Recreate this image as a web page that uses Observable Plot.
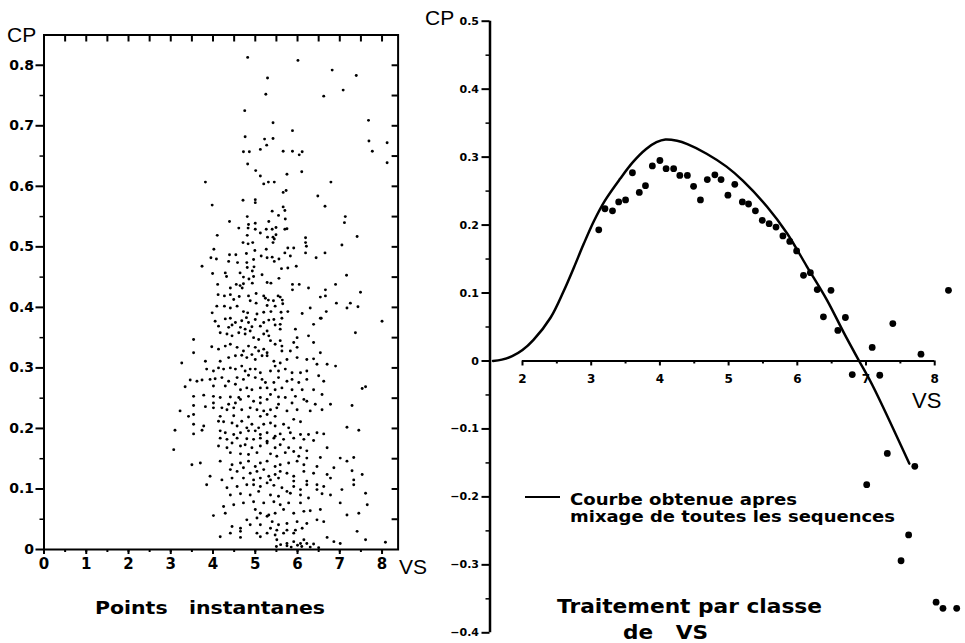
<!DOCTYPE html>
<html><head><meta charset="utf-8">
<script src="https://cdn.jsdelivr.net/npm/d3@7"></script>
<script src="https://cdn.jsdelivr.net/npm/@observablehq/plot@0.6"></script>
<style>
html,body{margin:0;padding:0;background:#fff;}
#wrap{position:relative;width:965px;height:643px;overflow:hidden;background:#fff;}
.panel{position:absolute;top:0;}
#overlay{position:absolute;left:0;top:0;pointer-events:none;}
</style></head>
<body><div id="wrap">
<div id="left" class="panel" style="left:0px"></div>
<div id="right" class="panel" style="left:430px"></div>
<svg id="overlay" width="965" height="643" xmlns="http://www.w3.org/2000/svg">
  <g font-family="Liberation Sans, Arial, sans-serif" fill="#000">
    <text x="7" y="42" font-size="21">CP</text>
    <text x="399" y="574" font-size="21">VS</text>
    <text x="425" y="25" font-size="21">CP</text>
    <text x="912" y="408" font-size="22">VS</text>
  </g>
  <g font-family="DejaVu Sans, sans-serif" font-weight="bold" fill="#000">
    <text x="95" y="614" font-size="18" textLength="230" lengthAdjust="spacingAndGlyphs" xml:space="preserve">Points   instantanes</text>
    <text x="557" y="613" font-size="19" textLength="265" lengthAdjust="spacingAndGlyphs">Traitement par classe</text>
    <text x="623" y="639" font-size="19" textLength="85" lengthAdjust="spacingAndGlyphs" xml:space="preserve">de   VS</text>
    <line x1="525" x2="560" y1="497" y2="497" stroke="#000" stroke-width="2"/>
    <text x="570" y="505" font-size="15" textLength="227" lengthAdjust="spacingAndGlyphs">Courbe obtenue apres</text>
    <text x="570" y="522" font-size="15" textLength="325" lengthAdjust="spacingAndGlyphs">mixage de toutes les sequences</text>
  </g>
</svg>
</div>
<script>
// ---------- Left panel: instantaneous points (VS, CP) ----------
const cloudUpper = [[4.82,0.813],[6.01,0.808],[6.82,0.792],[7.39,0.783],[5.29,0.779],[5.25,0.752],[6.62,0.749],[7.08,0.759],[4.75,0.725],[5.42,0.705],[5.88,0.692],[7.68,0.709],[4.76,0.682],[5.22,0.678],[5.42,0.679],[5.27,0.668],[7.69,0.675],[8.12,0.672],[7.77,0.658],[4.72,0.657],[4.86,0.657],[5.12,0.661],[5.66,0.658],[5.88,0.658],[6.04,0.652],[6.11,0.657],[8.12,0.639],[4.82,0.637],[5.01,0.626],[6.10,0.624],[5.75,0.620],[5.12,0.617],[3.82,0.607],[5.20,0.604],[5.31,0.607],[5.45,0.607],[6.79,0.607],[5.66,0.590],[5.73,0.593],[6.48,0.584],[4.71,0.577],[5.0,0.578],[5.0,0.573],[3.98,0.569],[6.65,0.567],[5.66,0.566],[5.40,0.559],[5.70,0.560],[5.55,0.552],[7.13,0.550],[7.11,0.540],[4.81,0.550],[4.84,0.537],[5.0,0.539],[5.71,0.546],[4.39,0.542],[5.32,0.542],[4.61,0.531],[4.83,0.531],[5.0,0.529],[5.26,0.529],[5.40,0.529],[5.49,0.532],[5.70,0.529],[5.75,0.530],[4.10,0.519],[5.12,0.523],[4.81,0.519],[5.29,0.516],[5.42,0.516],[5.49,0.520],[7.41,0.517],[6.19,0.515],[4.71,0.507],[4.83,0.505],[4.94,0.507],[5.45,0.513],[5.42,0.507],[6.19,0.507],[6.21,0.501],[7.05,0.503],[5.77,0.498],[5.91,0.498],[4.02,0.496],[4.99,0.494],[4.79,0.489],[5.26,0.496],[5.70,0.490],[6.19,0.490],[6.65,0.490],[3.95,0.482],[4.08,0.480],[4.39,0.487],[4.54,0.487],[5.14,0.485],[5.28,0.482],[5.40,0.483],[5.56,0.480],[5.45,0.476],[6.44,0.482],[5.83,0.485],[4.96,0.479],[4.80,0.474],[4.37,0.476],[4.58,0.474],[3.74,0.468],[4.97,0.467],[4.81,0.466],[5.97,0.468],[5.62,0.464],[5.77,0.465],[3.99,0.456],[4.29,0.457],[4.32,0.451],[4.64,0.457],[4.72,0.450],[4.93,0.460],[4.96,0.451],[4.85,0.447],[5.16,0.454],[5.56,0.448],[7.16,0.453],[4.11,0.438],[4.55,0.438],[4.64,0.436],[4.72,0.439],[4.93,0.440],[5.28,0.441],[5.37,0.440],[5.88,0.438],[6.04,0.438],[6.90,0.438],[6.26,0.432],[4.41,0.432],[4.69,0.432],[4.12,0.421],[4.27,0.419],[4.41,0.421],[4.62,0.418],[4.84,0.419],[5.02,0.423],[5.20,0.419],[5.24,0.415],[5.54,0.419],[5.59,0.417],[5.88,0.429],[5.64,0.412],[6.54,0.417],[6.66,0.429],[6.66,0.419],[7.49,0.425],[4.49,0.413],[4.88,0.411],[5.31,0.412],[5.43,0.411],[6.92,0.407],[7.25,0.407],[4.09,0.402],[4.27,0.402],[4.41,0.399],[4.57,0.402],[5.02,0.407],[5.28,0.403],[5.47,0.402],[5.65,0.406],[6.30,0.399],[6.11,0.390],[7.17,0.399],[7.43,0.401],[3.98,0.391],[4.72,0.393],[4.82,0.391],[5.04,0.389],[5.20,0.392],[5.37,0.393],[5.61,0.392],[5.77,0.393],[6.68,0.393],[6.56,0.382]];

const cloudMiddle = [[4.05,0.377],[4.29,0.381],[4.41,0.382],[4.53,0.375],[4.68,0.378],[4.79,0.383],[4.84,0.375],[5.00,0.380],[5.20,0.375],[5.32,0.379],[5.44,0.380],[5.59,0.372],[5.63,0.382],[6.54,0.382],[8.00,0.377],[4.13,0.369],[4.37,0.367],[4.45,0.371],[4.65,0.367],[4.76,0.364],[4.92,0.368],[5.12,0.369],[5.28,0.361],[5.47,0.371],[5.59,0.364],[5.95,0.364],[6.38,0.372],[7.37,0.358],[4.17,0.358],[4.33,0.356],[4.45,0.353],[4.61,0.358],[4.76,0.356],[4.88,0.361],[4.96,0.350],[5.08,0.347],[5.20,0.356],[5.32,0.353],[5.36,0.345],[5.59,0.345],[5.99,0.350],[6.26,0.353],[5.91,0.342],[6.38,0.342],[3.54,0.347],[3.97,0.335],[4.13,0.331],[4.29,0.336],[4.41,0.339],[4.57,0.334],[4.72,0.328],[4.84,0.336],[5.00,0.334],[5.08,0.328],[5.20,0.331],[5.28,0.325],[5.47,0.339],[5.63,0.336],[5.63,0.328],[5.83,0.328],[5.99,0.334],[3.54,0.325],[6.54,0.325],[4.17,0.311],[4.37,0.317],[4.53,0.320],[4.68,0.321],[4.80,0.317],[4.92,0.322],[5.00,0.314],[5.16,0.320],[5.28,0.320],[5.44,0.311],[5.47,0.303],[5.59,0.308],[5.75,0.314],[5.99,0.317],[6.22,0.314],[6.38,0.315],[6.46,0.306],[6.70,0.306],[6.90,0.303],[3.26,0.308],[3.82,0.311],[3.85,0.298],[4.01,0.295],[4.13,0.300],[4.25,0.298],[4.41,0.300],[4.53,0.298],[4.68,0.303],[4.76,0.295],[4.88,0.298],[5.00,0.298],[5.12,0.292],[5.36,0.295],[5.55,0.295],[5.71,0.298],[5.87,0.292],[6.07,0.292],[6.22,0.295],[6.50,0.287],[6.62,0.278],[3.46,0.280],[3.62,0.278],[3.74,0.280],[3.93,0.281],[4.05,0.282],[4.21,0.284],[4.37,0.278],[4.57,0.284],[4.72,0.281],[4.84,0.288],[5.00,0.284],[5.16,0.281],[5.24,0.276],[5.44,0.276],[5.55,0.284],[5.75,0.278],[5.87,0.281],[6.03,0.276],[6.22,0.281],[3.34,0.269],[4.01,0.270],[4.29,0.270],[4.53,0.273],[4.65,0.264],[4.80,0.267],[4.92,0.264],[5.12,0.267],[5.28,0.267],[5.47,0.264],[5.63,0.267],[5.87,0.264],[6.11,0.264],[6.38,0.264],[6.58,0.256],[7.53,0.266],[7.61,0.269],[3.54,0.253],[3.78,0.255],[4.01,0.253],[4.17,0.251],[4.41,0.252],[4.61,0.251],[4.84,0.253],[5.12,0.251],[5.36,0.256],[5.55,0.252],[5.71,0.251],[5.95,0.253],[6.15,0.248],[4.01,0.242],[4.37,0.240],[4.53,0.242],[4.65,0.248],[4.96,0.245],[5.12,0.242],[5.28,0.248],[5.55,0.240],[5.87,0.242],[6.22,0.245],[6.42,0.240],[6.78,0.240],[7.29,0.238],[3.54,0.238],[3.82,0.236],[3.22,0.229],[3.42,0.220],[3.54,0.223],[4.01,0.234],[4.21,0.234],[4.33,0.231],[4.49,0.234],[4.68,0.231],[4.88,0.234],[5.04,0.231],[5.20,0.229],[5.36,0.231],[5.51,0.234],[5.75,0.229],[5.99,0.231],[6.30,0.229],[6.58,0.231],[4.17,0.220],[4.49,0.221],[4.84,0.219],[5.12,0.220],[5.28,0.223],[5.47,0.220]];

const cloudLower = [[3.54,0.207],[3.78,0.204],[3.10,0.197],[4.13,0.212],[4.25,0.211],[4.45,0.209],[4.57,0.204],[4.68,0.212],[4.80,0.201],[4.92,0.207],[5.08,0.201],[5.20,0.207],[5.36,0.209],[5.47,0.204],[5.67,0.207],[5.79,0.201],[5.91,0.215],[6.07,0.211],[7.17,0.202],[7.45,0.197],[3.74,0.197],[3.54,0.191],[4.17,0.196],[4.29,0.193],[4.49,0.190],[4.65,0.193],[4.84,0.196],[5.00,0.196],[5.12,0.190],[5.28,0.193],[5.47,0.187],[5.59,0.191],[5.83,0.193],[6.07,0.190],[6.26,0.190],[6.46,0.193],[6.62,0.191],[4.17,0.184],[4.33,0.182],[4.57,0.184],[4.80,0.183],[4.96,0.182],[5.12,0.184],[5.28,0.179],[5.44,0.184],[5.67,0.182],[5.91,0.184],[6.15,0.182],[6.38,0.180],[3.07,0.165],[4.13,0.171],[4.33,0.168],[4.45,0.176],[4.65,0.171],[4.76,0.173],[4.92,0.168],[5.12,0.171],[5.28,0.176],[5.47,0.168],[5.59,0.173],[5.79,0.168],[5.91,0.162],[6.07,0.168],[6.22,0.163],[6.70,0.168],[4.41,0.160],[4.65,0.158],[4.84,0.157],[5.04,0.160],[5.36,0.158],[5.51,0.154],[5.71,0.160],[6.03,0.154],[6.22,0.151],[6.54,0.152],[7.01,0.151],[7.33,0.152],[7.17,0.146],[3.50,0.140],[3.70,0.143],[4.17,0.146],[4.45,0.140],[4.65,0.143],[4.84,0.146],[5.00,0.137],[5.12,0.143],[5.28,0.146],[5.47,0.137],[5.59,0.140],[5.79,0.143],[5.99,0.146],[6.15,0.140],[6.46,0.137],[6.86,0.135],[7.29,0.130],[3.93,0.121],[4.41,0.132],[4.57,0.129],[4.72,0.135],[4.88,0.126],[5.04,0.129],[5.20,0.132],[5.32,0.121],[5.47,0.124],[5.59,0.129],[5.75,0.126],[5.91,0.121],[6.15,0.129],[6.38,0.126],[6.70,0.124],[7.53,0.124],[6.78,0.118],[4.21,0.115],[4.45,0.118],[4.72,0.118],[4.96,0.115],[5.12,0.118],[5.36,0.115],[5.55,0.118],[5.91,0.113],[6.22,0.113],[7.33,0.115],[3.85,0.107],[4.33,0.102],[4.57,0.104],[4.80,0.107],[4.96,0.107],[5.12,0.104],[5.28,0.110],[5.44,0.106],[5.63,0.102],[5.75,0.096],[5.91,0.104],[6.07,0.099],[6.22,0.107],[6.46,0.107],[6.62,0.104],[7.05,0.099],[7.33,0.107],[4.41,0.090],[4.65,0.092],[4.88,0.090],[5.08,0.096],[5.36,0.090],[5.55,0.088],[5.83,0.093],[6.07,0.090],[6.46,0.099],[6.58,0.092],[6.78,0.090],[7.61,0.093],[4.25,0.071],[4.49,0.074],[4.72,0.077],[4.96,0.079],[5.20,0.077],[5.44,0.079],[5.59,0.074],[5.79,0.077],[6.07,0.077],[6.26,0.085],[7.01,0.077],[7.65,0.074],[4.01,0.056],[4.29,0.060],[5.00,0.066],[5.12,0.060],[5.32,0.057],[5.47,0.060],[5.67,0.066],[5.91,0.060],[6.15,0.063],[6.30,0.064],[6.54,0.066],[7.17,0.057],[7.45,0.060],[4.80,0.049],[5.04,0.052],[5.28,0.055],[5.40,0.046],[5.55,0.041],[5.75,0.043],[5.99,0.046],[6.22,0.043],[6.46,0.049],[6.62,0.046],[4.45,0.038],[4.65,0.035],[4.88,0.041],[5.12,0.041],[5.36,0.035],[5.51,0.032],[5.75,0.032],[5.95,0.032],[6.11,0.035],[4.41,0.027],[4.65,0.030],[5.04,0.027],[5.28,0.027],[5.47,0.024],[5.67,0.027],[5.91,0.027],[4.17,0.021],[4.65,0.020],[5.12,0.021],[5.51,0.016],[5.75,0.010],[5.91,0.013],[6.07,0.010],[6.22,0.010],[6.38,0.009],[6.70,0.020],[6.86,0.013],[7.01,0.010],[7.41,0.030],[7.61,0.016],[8.08,0.012],[6.15,0.016],[5.50,0.005],[5.60,0.008],[5.75,0.006],[5.85,0.004],[6.00,0.007],[6.10,0.005],[6.30,0.004],[6.50,0.003]];

const leftVSTicks = [0,1,2,3,4,5,6,7,8];
const leftVSHalfTicks = [0.5,1,1.5,2,2.5,3,3.5,4,4.5,5,5.5,6,6.5,7,7.5,8];
const leftCPTicks = [0,0.1,0.2,0.3,0.4,0.5,0.6,0.7,0.8];
const leftCPMinorTicks = [0.05,0.15,0.25,0.35,0.45,0.55,0.65,0.75];
const leftCPAllTicks = [0.05,0.1,0.15,0.2,0.25,0.3,0.35,0.4,0.45,0.5,0.55,0.6,0.65,0.7,0.75,0.8];

// ---------- Right panel: class averages and mixed curve ----------
const classVS = [3.11,3.2,3.31,3.4,3.5,3.6,3.7,3.79,3.89,4.0,4.09,4.2,4.29,4.4,4.49,4.59,4.69,4.8,4.89,4.99,5.09,5.2,5.29,5.39,5.49,5.59,5.69,5.79,5.89,5.99,6.09,6.19,6.29,6.38,6.49,6.59,6.7,6.8,7.01,7.09,7.2,7.31,7.39,7.51,7.62,7.71,7.8,8.02,8.12,8.2,8.32];
const classCP = [0.193,0.224,0.221,0.234,0.237,0.277,0.248,0.258,0.287,0.295,0.283,0.283,0.273,0.273,0.257,0.237,0.267,0.274,0.267,0.244,0.260,0.234,0.231,0.221,0.207,0.202,0.197,0.184,0.176,0.162,0.126,0.130,0.105,0.065,0.104,0.045,0.064,-0.020,-0.182,0.020,-0.021,-0.136,0.055,-0.294,-0.256,-0.155,0.010,-0.355,-0.364,0.104,-0.364];
const curveVS = [1.57,1.7,1.85,2.0,2.16,2.41,2.60,2.75,2.89,3.04,3.2,3.42,3.61,3.8,3.95,4.08,4.25,4.4,4.68,4.97,5.21,5.56,5.85,6.14,6.43,6.68,6.9,7.09,7.63];
const curveCP = [0,0.002,0.007,0.016,0.031,0.064,0.103,0.138,0.172,0.206,0.236,0.268,0.293,0.312,0.322,0.326,0.324,0.319,0.305,0.286,0.265,0.227,0.188,0.139,0.09,0.041,0,-0.035,-0.151];
const rightVSDomain = [1.527, 8.448];
const rightVSAxisSpan = [2, 8];
const rightVSTicks = [2,3,4,5,6,7,8];
const rightVSHalfTicks = [2.5,3.5,4.5,5.5,6.5,7.5];
const rightCPTicks = [-0.4,-0.3,-0.2,-0.1,0,0.1,0.2,0.3,0.4,0.5];
const rightCPMinorTicks = [-0.35,-0.25,-0.15,-0.05,0.05,0.15,0.25,0.35,0.45];

const fmt = d => Math.abs(d) < 1e-9 ? "0" : d3.format(".1f")(d);
const blank = () => "";

const cloud = cloudUpper.concat(cloudMiddle, cloudLower).map(([vs, cp]) => ({vs, cp}));
const classes = classVS.map((vs, i) => ({vs, cp: classCP[i]}));
const curve = curveVS.map((vs, i) => ({vs, cp: curveCP[i]}));

const L = {w: 440, h: 643, ml: 43.5, mr: 42.4, mt: 34.5, mb: 94};
const innerLW = L.w - L.ml - L.mr, innerLH = L.h - L.mt - L.mb;

const leftPlot = Plot.plot({
  width: L.w, height: L.h,
  marginLeft: L.ml, marginRight: L.mr, marginTop: L.mt, marginBottom: L.mb,
  x: {domain: [0, 8.38]},
  y: {domain: [0, 0.85]},
  style: {fontFamily: "DejaVu Sans, sans-serif", color: "#000", background: "#fff"},
  marks: [
    Plot.frame({stroke: "#000", strokeWidth: 2}),
    Plot.axisY(leftCPTicks, {tickSize: 8, tickPadding: 2, tickFormat: fmt, fontSize: 14, fontWeight: "bold", strokeWidth: 2, label: null}),
    Plot.axisY(leftCPMinorTicks, {tickSize: 4, tickFormat: blank, strokeWidth: 1.5, label: null}),
    Plot.axisX(leftVSTicks, {tickSize: 5, tickPadding: 4, fontSize: 15, fontWeight: "bold", strokeWidth: 2, label: null}),
    Plot.axisX(leftVSHalfTicks, {tickSize: 3, tickFormat: blank, strokeWidth: 2, label: null}),
    Plot.tickX(leftVSHalfTicks, {x: d => d, insetBottom: innerLH - 7, strokeWidth: 2}),
    Plot.tickY(leftCPAllTicks, {y: d => d, insetLeft: innerLW - 6, strokeWidth: 2}),
    Plot.dot(cloud, {x: "vs", y: "cp", r: 1.45, fill: "#000", stroke: "none"})
  ]
});
document.getElementById("left").append(leftPlot);

const rightPlot = Plot.plot({
  width: 535, height: 643,
  marginLeft: 59.5, marginRight: 0, marginTop: 20.7, marginBottom: 10.7,
  x: {domain: rightVSDomain, axis: null},
  y: {domain: [-0.4, 0.5]},
  style: {fontFamily: "DejaVu Sans, sans-serif", color: "#000", background: "transparent"},
  marks: [
    Plot.ruleX([rightVSDomain[0]], {strokeWidth: 2.5}),
    Plot.ruleY([0], {x1: rightVSAxisSpan[0], x2: rightVSAxisSpan[1], strokeWidth: 2}),
    Plot.axisY(rightCPTicks, {tickSize: 8, tickPadding: 3, tickFormat: fmt, fontSize: 11, fontWeight: "bold", strokeWidth: 2, label: null}),
    Plot.axisY(rightCPMinorTicks, {tickSize: 4, tickFormat: blank, strokeWidth: 1.5, label: null}),
    Plot.ruleX(rightVSTicks, {x: d => d, y1: 0, y2: 0, insetBottom: -5, strokeWidth: 2}),
    Plot.ruleX(rightVSHalfTicks, {x: d => d, y1: 0, y2: 0, insetBottom: -3, strokeWidth: 2}),
    Plot.text(rightVSTicks, {x: d => d, y: 0, text: d => String(d), dy: 18, fontSize: 12, fontWeight: "bold"}),
    Plot.line(curve, {x: "vs", y: "cp", curve: "catmull-rom", strokeWidth: 2.5, stroke: "#000"}),
    Plot.dot(classes, {x: "vs", y: "cp", r: 3.4, fill: "#000", stroke: "none"})
  ]
});
document.getElementById("right").append(rightPlot);
</script>
</body></html>
